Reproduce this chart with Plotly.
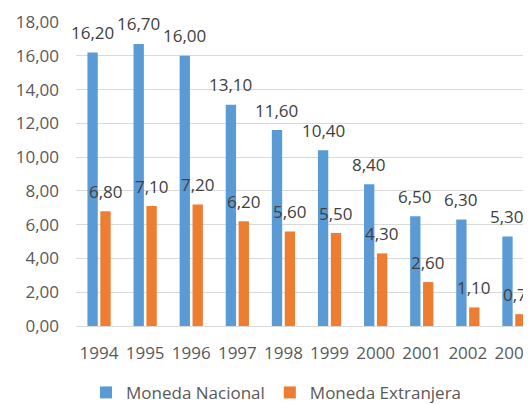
import plotly.graph_objects as go

years = ["1994", "1995", "1996", "1997", "1998", "1999", "2000", "2001", "2002", "2003"]
moneda_nacional = [16.20, 16.70, 16.00, 13.10, 11.60, 10.40, 8.40, 6.50, 6.30, 5.30]
moneda_extranjera = [6.80, 7.10, 7.20, 6.20, 5.60, 5.50, 4.30, 2.60, 1.10, 0.70]

BLUE = "#5B9BD5"
ORANGE = "#ED7D31"
FONT = "Open Sans"
FS = 17

fig = go.Figure()
fig.add_trace(go.Bar(name="Moneda Nacional", x=years, y=moneda_nacional,
                     marker=dict(color=BLUE, line=dict(width=0))))
fig.add_trace(go.Bar(name="Moneda Extranjera", x=years, y=moneda_extranjera,
                     marker=dict(color=ORANGE, line=dict(width=0))))

def fmt(v):
    return f"{v:.2f}".replace(".", ",")

annotations = []
for series, shift in ((moneda_nacional, -6.5), (moneda_extranjera, 6.5)):
    for i, v in enumerate(series):
        annotations.append(dict(x=i, y=v, xref="x", yref="y", text=fmt(v),
                                showarrow=False, xshift=shift, yshift=20,
                                yanchor="middle", xanchor="center",
                                font=dict(family=FONT, size=FS, color="#404040")))

# page body has an 8px default margin; figure is sized to end at the window edge
fig.update_layout(
    width=523, height=396,
    margin=dict(l=68, r=0, t=14, b=78, autoexpand=False),
    paper_bgcolor="white", plot_bgcolor="white",
    barmode="group", bargap=0.44, bargroupgap=0.2,
    separators=",.",
    font=dict(family=FONT, size=FS, color="#595959"),
    annotations=annotations,
    legend=dict(orientation="h", x=0.022, xanchor="left", y=-0.22, yanchor="middle",
                font=dict(family=FONT, size=FS, color="#595959"),
                bgcolor="rgba(0,0,0,0)"),
    xaxis=dict(type="category", range=[-0.5, 9.37], showgrid=False, showline=False,
               ticks="", ticklabelstandoff=15, automargin=False,
               tickfont=dict(family=FONT, size=FS, color="#595959")),
    yaxis=dict(range=[0, 18], dtick=2, tickformat=".2f", showgrid=True,
               gridcolor="#D9D9D9", gridwidth=1, zeroline=True, zerolinecolor="#D9D9D9",
               zerolinewidth=1, showline=False, ticks="", ticklabelstandoff=16,
               automargin=False,
               tickfont=dict(family=FONT, size=FS, color="#595959")),
)

fig.write_html("out.html")
